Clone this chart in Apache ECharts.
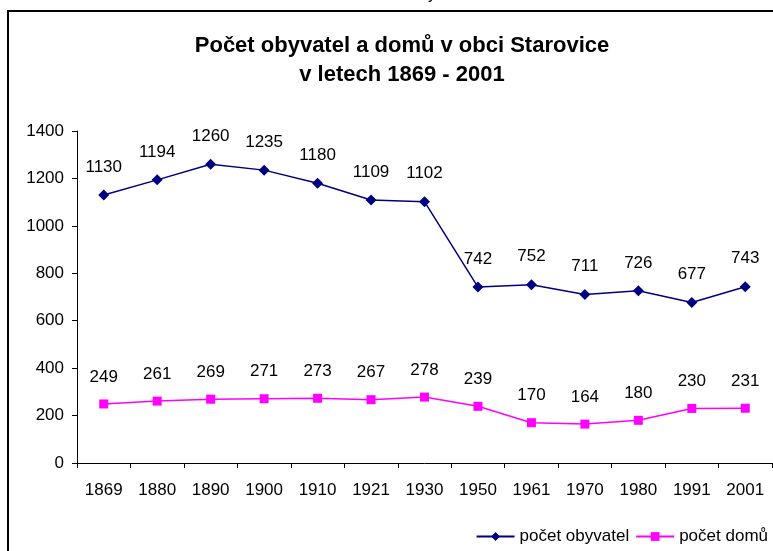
<!DOCTYPE html>
<html><head><meta charset="utf-8">
<script src="https://cdn.jsdelivr.net/npm/echarts@6/dist/echarts.min.js"></script>
<style>html,body{margin:0;padding:0;background:#fff}#c{width:773px;height:551px}</style>
</head><body><div id="c"></div>
<script>
const categories = ['1869','1880','1890','1900','1910','1921','1930','1950','1961','1970','1980','1991','2001'];
const obyvatel = [1130,1194,1260,1235,1180,1109,1102,742,752,711,726,677,743];
const domu = [249,261,269,271,273,267,278,239,170,164,180,230,231];
const yTicks = [0,200,400,600,800,1000,1200,1400];

const chart = echarts.init(document.getElementById('c'), null, {renderer:'canvas'});
const font = 'Arial, "Liberation Sans", sans-serif';
chart.setOption({
  animation:false,
  backgroundColor:'#fff',
  title:{
    text:'Počet obyvatel a domů v obci Starovice\nv letech 1869 - 2001',
    left:397, top:26, textAlign:'center',
    textStyle:{fontFamily:font,fontSize:22,fontWeight:'bold',color:'#000',lineHeight:29}
  },
  graphic:[
    {type:'rect',shape:{x:8,y:11,width:900,height:700},style:{fill:'none',stroke:'#000',lineWidth:2},silent:true},
    {type:'text',left:428,top:-13,style:{text:'y',font:'16px '+font,fill:'#000'}}
  ],
  legend:{
    right:0, top:523, itemWidth:38, itemHeight:11, itemGap:6,
    textStyle:{fontFamily:font,fontSize:17,color:'#000'},
    data:['počet obyvatel','počet domů']
  },
  grid:{left:77,right:1,top:131,bottom:88},
  xAxis:{
    type:'category', data:categories, boundaryGap:true,
    axisLine:{lineStyle:{color:'#000',width:1}},
    axisTick:{show:true,length:5,lineStyle:{color:'#000'}},
    axisLabel:{fontFamily:font,fontSize:17,color:'#000',margin:19}
  },
  yAxis:{
    type:'value', min:0, max:1400, interval:200,
    axisLine:{show:true,lineStyle:{color:'#000',width:1}},
    axisTick:{show:true,length:5,lineStyle:{color:'#000'}},
    splitLine:{show:false},
    axisLabel:{fontFamily:font,fontSize:17,color:'#000',margin:13,
      formatter:v=>yTicks.includes(v)?String(v):''}
  },
  series:[
    {name:'počet obyvatel',type:'line',data:obyvatel,symbol:'diamond',symbolSize:11,
     itemStyle:{color:'#000080'},lineStyle:{color:'#000080',width:1.5},
     label:{show:true,position:'top',distance:14,fontFamily:font,fontSize:17,color:'#000'}},
    {name:'počet domů',type:'line',data:domu,symbol:'rect',symbolSize:9,
     itemStyle:{color:'#FF00FF'},lineStyle:{color:'#FF00FF',width:1.5},
     label:{show:true,position:'top',distance:14,fontFamily:font,fontSize:17,color:'#000'}}
  ]
});
</script></body></html>
